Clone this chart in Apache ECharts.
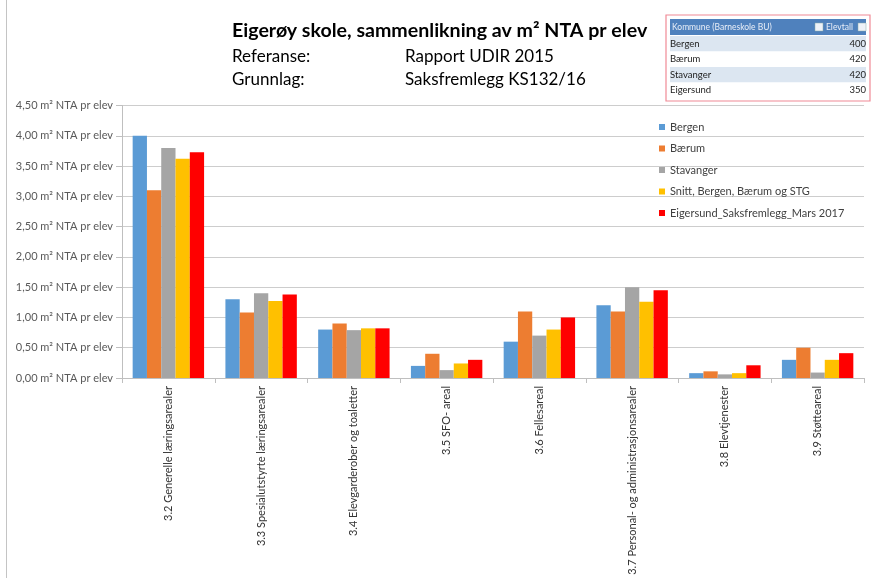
<!DOCTYPE html>
<html>
<head>
<meta charset="utf-8">
<script src="https://cdn.jsdelivr.net/npm/echarts@6/dist/echarts.min.js"></script>
<style>html,body{margin:0;padding:0;background:#fff}#c{width:872px;height:578px}</style>
</head>
<body>
<div id="c"></div>
<script>
// ---- data ----
const categories = [
  '3.2 Generelle læringsarealer',
  '3.3 Spesialutstyrte læringsarealer',
  '3.4 Elevgarderober og toaletter',
  '3.5 SFO- areal',
  '3.6 Fellesareal',
  '3.7 Personal- og administrasjonsarealer',
  '3.8 Elevtjenester',
  '3.9 Støtteareal'
];
const seriesNames = ['Bergen', 'Bærum', 'Stavanger', 'Snitt, Bergen, Bærum og STG', 'Eigersund_Saksfremlegg_Mars 2017'];
const bergen    = [4.00, 1.30, 0.80, 0.20, 0.60, 1.20, 0.08, 0.30];
const baerum    = [3.10, 1.08, 0.90, 0.40, 1.10, 1.10, 0.11, 0.50];
const stavanger = [3.80, 1.40, 0.79, 0.13, 0.70, 1.50, 0.06, 0.09];
const snitt     = [3.62, 1.27, 0.82, 0.24, 0.80, 1.26, 0.08, 0.30];
const eigersund = [3.73, 1.38, 0.82, 0.30, 1.00, 1.45, 0.21, 0.41];
const yUnit = 'm² NTA pr elev';

const titleText = 'Eigerøy skole, sammenlikning av m² NTA pr elev';
const infoLabels = ['Referanse:', 'Grunnlag:'];
const infoValues = ['Rapport UDIR 2015', 'Saksfremlegg KS132/16'];

const tableHeader = ['Kommune (Barneskole BU)', 'Elevtall'];
const kommuner = ['Bergen', 'Bærum', 'Stavanger', 'Eigersund'];
const elevtall = [400, 420, 420, 350];

// ---- chart ----
const colors = ['#5b9bd5', '#ed7d31', '#a5a5a5', '#ffc000', '#ff0000'];
const values = [bergen, baerum, stavanger, snitt, eigersund];
const FONT = 'Lato';

const graphics = [];
graphics.push({type: 'line', shape: {x1: 6.5, y1: 0, x2: 6.5, y2: 578}, style: {stroke: '#c4c4c4', lineWidth: 1}});
graphics.push({type: 'text', x: 232, y: 31, style: {text: titleText, font: 'bold 19.6px ' + FONT, fill: '#000', textVerticalAlign: 'middle'}});
infoLabels.forEach((t, i) => {
  graphics.push({type: 'text', x: 232, y: 57 + i * 23, style: {text: t, font: '17px ' + FONT, fill: '#000', textVerticalAlign: 'middle'}});
  graphics.push({type: 'text', x: 405, y: 57 + i * 23, style: {text: infoValues[i], font: '17px ' + FONT, fill: '#000', textVerticalAlign: 'middle'}});
});

// table
const tx = 666, ty = 15, tw = 204, th = 86;
const hdrY = 19, hdrH = 16, rowH = 15.5;
graphics.push({type: 'rect', shape: {x: tx + 4, y: hdrY, width: tw - 8, height: hdrH}, style: {fill: '#4f81bd'}});
kommuner.forEach((k, i) => {
  const y = hdrY + hdrH + 1 + i * rowH;
  graphics.push({type: 'rect', shape: {x: tx + 4, y: y, width: tw - 8, height: rowH}, style: {fill: i % 2 === 0 ? '#dce6f1' : '#ffffff'}});
  graphics.push({type: 'text', x: tx + 4, y: y + rowH / 2, style: {text: k, font: '9.5px ' + FONT, fill: '#222', textVerticalAlign: 'middle'}});
  graphics.push({type: 'text', x: tx + tw - 4, y: y + rowH / 2, style: {text: String(elevtall[i]), font: '9.5px ' + FONT, fill: '#222', textAlign: 'right', textVerticalAlign: 'middle'}});
});
graphics.push({type: 'text', x: tx + 6, y: hdrY + hdrH / 2, style: {text: tableHeader[0], font: '8.5px ' + FONT, fill: '#e8eef8', textVerticalAlign: 'middle'}});
graphics.push({type: 'rect', shape: {x: 815, y: hdrY + 4, width: 8, height: 8}, style: {fill: '#eef2f8', stroke: '#8aa', lineWidth: 0.5}});
graphics.push({type: 'text', x: 826, y: hdrY + hdrH / 2, style: {text: tableHeader[1], font: '8.5px ' + FONT, fill: '#e8eef8', textVerticalAlign: 'middle'}});
graphics.push({type: 'rect', shape: {x: 858, y: hdrY + 4, width: 8, height: 8}, style: {fill: '#eef2f8', stroke: '#8aa', lineWidth: 0.5}});
graphics.push({type: 'rect', shape: {x: tx, y: ty, width: tw, height: th}, style: {fill: 'none', stroke: '#f08a96', lineWidth: 1.2}});

const chart = echarts.init(document.getElementById('c'));
chart.setOption({
  animation: false,
  backgroundColor: '#fff',
  color: colors,
  textStyle: {fontFamily: FONT},
  grid: {left: 122, right: 8, top: 105.5, bottom: 200, containLabel: false},
  legend: {
    orient: 'vertical', left: 659, top: 120.5, icon: 'rect', itemWidth: 6, itemHeight: 6,
    itemGap: 8.5, padding: 0,
    textStyle: {fontSize: 11, color: '#404040', lineHeight: 13, fontFamily: FONT},
    data: seriesNames
  },
  xAxis: {
    type: 'category', data: categories,
    axisLine: {lineStyle: {color: '#bfbfbf'}},
    axisTick: {show: true, length: 5, lineStyle: {color: '#bfbfbf'}},
    axisLabel: {rotate: 90, interval: 0, margin: 8, fontSize: 11, color: '#333', fontFamily: FONT}
  },
  yAxis: {
    type: 'value', min: 0, max: 4.5, interval: 0.5,
    axisLine: {show: true, lineStyle: {color: '#bfbfbf'}},
    axisTick: {show: true, length: 6, lineStyle: {color: '#bfbfbf'}},
    splitLine: {lineStyle: {color: '#cdcdcd'}},
    axisLabel: {fontSize: 11, color: '#595959', margin: 9, fontFamily: FONT,
      formatter: v => v.toFixed(2).replace('.', ',') + ' ' + yUnit}
  },
  series: seriesNames.map((n, i) => ({
    name: n, type: 'bar', data: values[i], barGap: '0%', barCategoryGap: '23%'
  })),
  graphic: graphics
});
</script>
</body>
</html>
